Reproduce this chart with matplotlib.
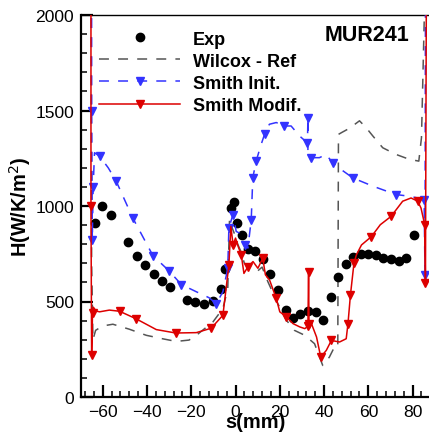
import matplotlib
matplotlib.use("Agg")
import matplotlib.pyplot as plt
from matplotlib.ticker import MultipleLocator

plt.rcParams["font.family"] = ["Liberation Sans", "DejaVu Sans"]

# experimental points
exp_s = [-63.6, -60.2, -56.1, -48.6, -44.7, -40.8, -37.0, -33.3, -29.5, -22.0,
         -18.1, -14.1, -10.2, -6.5, -4.6, -2.2, -0.6, 0.8, 3.0, 5.6, 8.9, 12.3,
         15.7, 19.3, 22.7, 26.0, 29.3, 32.8, 36.3, 39.7, 43.2, 46.5, 49.7, 53.0,
         56.7, 60.0, 63.5, 66.8, 70.3, 73.7, 77.1, 80.5]
exp_h = [910, 1002, 951, 809, 740, 691, 642, 607, 574, 507, 495, 488, 502, 563,
         670, 990, 1021, 910, 846, 774, 765, 721, 642, 560, 454, 411, 432, 451,
         446, 402, 521, 626, 695, 735, 747, 747, 744, 730, 723, 712, 730, 849]

# Wilcox - Ref
wil_s = [-65.2, -65.0, -64.4, -63.2, -60.0, -55.4, -48.0, -40.3, -33.0, -26.8,
         -21.0, -17.7, -10.2, -5.7, -3.5, -2.7, -2.0, -1.0, 0.0, 1.0, 2.5, 4.0,
         6.0, 8.0, 10.0, 12.0, 14.6, 19.1, 23.0, 26.6, 31.3, 35.7, 39.4, 42.4,
         44.7, 46.2, 46.5, 48.0, 50.7, 53.0, 56.0, 59.0, 62.0, 66.5, 72.5, 78.6,
         82.8, 84.0, 85.5]
wil_h = [2100, 700, 300, 349, 372, 381, 355, 323, 305, 291, 298, 323, 393, 463,
         568, 937, 900, 870, 840, 800, 760, 700, 690, 680, 660, 680, 604, 489,
         402, 349, 323, 279, 165, 209, 262, 260, 1375, 1385, 1402, 1420, 1446,
         1410, 1367, 1305, 1270, 1244, 1235, 1358, 2100]

# Smith Init.
ini_s = [-65.0, -65.0, -64.7, -64.3, -63.7, -61.4, -57.5, -53.9, -46.4, -37.3,
         -30.0, -24.5, -17.7, -12.0, -8.7, -5.7, -3.5, -3.0, -1.2, -0.5, 0.3,
         1.8, 4.1, 5.6, 7.1, 7.8, 9.3, 11.6, 13.1, 15.3, 18.4, 22.1, 25.1, 28.9,
         32.5, 32.7, 32.7, 34.2, 37.9, 40.9, 43.9, 47.7, 53.0, 62.0, 72.5, 78.6,
         82.3, 85.2, 85.6, 85.8]
ini_h = [2100, 1500, 823, 1100, 1279, 1261, 1200, 1130, 937, 740, 660, 589, 551,
         520, 489, 551, 674, 884, 954, 919, 867, 858, 796, 780, 928, 1147, 1235,
         1323, 1375, 1428, 1437, 1419, 1419, 1367, 1330, 1463, 1288, 1253, 1253,
         1270, 1226, 1191, 1147, 1104, 1060, 1051, 1042, 1030, 637, 2100]

# Smith Modif.
mod_s = [-65.3, -65.3, -65.0, -64.6, -64.2, -63.0, -61.4, -57.0, -52.4, -45.0,
         -35.8, -27.0, -17.7, -11.0, -5.7, -3.0, -2.1, -1.1, 0.0, 1.2, 2.6, 3.8,
         5.6, 7.9, 10.1, 12.3, 13.5, 15.4, 18.4, 20.0, 23.0, 26.0, 29.0, 31.3,
         32.7, 33.0, 33.2, 34.3, 36.6, 38.5, 41.0, 43.3, 47.0, 50.0, 50.8, 51.9,
         53.5, 54.6, 56.9, 61.4, 65.4, 70.3, 75.5, 79.3, 82.3, 83.8, 85.5, 85.8,
         86.2]
mod_h = [2100, 1000, 218, 440, 470, 450, 446, 455, 449, 410, 353, 335, 337, 360,
         428, 691, 893, 796, 832, 788, 744, 647, 682, 709, 674, 726, 640, 612,
         516, 446, 419, 384, 367, 358, 370, 653, 384, 384, 314, 209, 244, 296,
         288, 305, 384, 533, 700, 744, 796, 840, 902, 946, 1025, 1042, 1025,
         989, 900, 595, 2100]


def main():
    fig = plt.figure(figsize=(4.29, 4.35), dpi=100)
    ax = fig.add_axes([81 / 429, 37 / 435, 348 / 429, 382 / 435])

    ax.plot(exp_s, exp_h, "o", color="black", ms=6, label="Exp", zorder=3)
    ax.plot(wil_s, wil_h, color="#555555", lw=1.1, dashes=(6.5, 6),
            label="Wilcox - Ref", zorder=2)
    ax.plot(ini_s, ini_h, color="#3333ff", lw=1.1, dashes=(6.5, 6),
            marker="v", ms=6, markevery=0.06, label="Smith Init.", zorder=4)
    ax.plot(mod_s, mod_h, color="#dd0000", lw=1.1, marker="v", ms=6,
            markevery=0.06, label="Smith Modif.", zorder=5)

    ax.set_xlim(-69.8, 87.4)
    ax.set_ylim(0, 2000)
    ax.xaxis.set_major_locator(MultipleLocator(20))
    ax.xaxis.set_minor_locator(MultipleLocator(4))
    ax.yaxis.set_major_locator(MultipleLocator(500))
    ax.yaxis.set_minor_locator(MultipleLocator(100))
    ax.tick_params(which="both", direction="in", top=False, right=False,
                   labelsize=12.6)
    ax.tick_params(which="major", length=8.6, width=1.6, pad=5)
    ax.tick_params(which="minor", length=4.3, width=1.1)

    ax.spines["right"].set_visible(False)
    ax.spines["left"].set_linewidth(1.6)
    ax.spines["bottom"].set_linewidth(1.6)
    ax.spines["top"].set_linewidth(1.0)

    ax.set_xlabel("s(mm)", fontsize=14.4, fontweight="bold", labelpad=-5)
    ax.set_ylabel("H(W/K/m$^2$)", fontsize=14.4, fontweight="bold", labelpad=2)

    ax.text(0.945, 0.95, "MUR241", transform=ax.transAxes, ha="right",
            va="center", fontsize=15.5, fontweight="bold")

    ax.legend(loc="upper left", bbox_to_anchor=(0.052, 0.959),
              frameon=False, handlelength=4.5, handletextpad=0.7,
              borderpad=0, borderaxespad=0, labelspacing=0.28,
              prop={"weight": "bold", "size": 13})

    fig.savefig("out.png", dpi=100)


if __name__ == "__main__":
    main()
